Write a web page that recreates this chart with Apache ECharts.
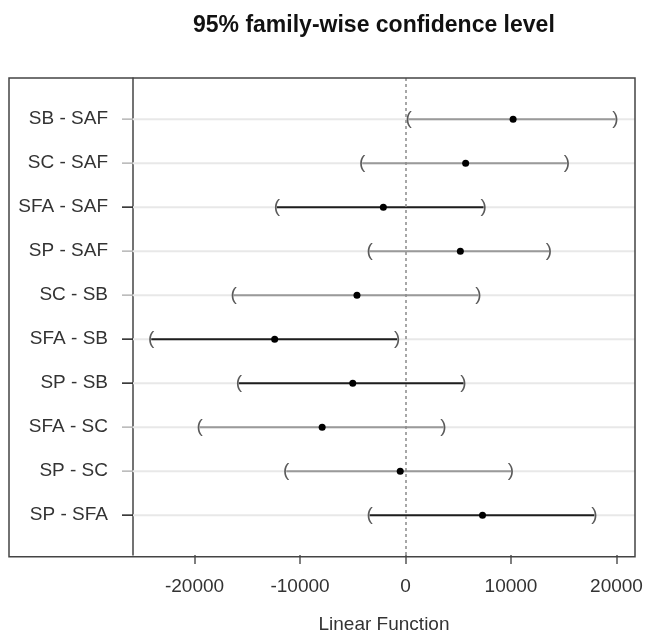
<!DOCTYPE html>
<html>
<head>
<meta charset="utf-8">
<script src="https://cdn.jsdelivr.net/npm/echarts@6/dist/echarts.min.js"></script>
<style>
html,body{margin:0;padding:0;background:#fff;}
#chart{width:646px;height:639px;}
</style>
</head>
<body>
<div id="chart"></div>
<script>
// ---- data ----
const comparisons = ['SB - SAF','SC - SAF','SFA - SAF','SP - SAF','SC - SB','SFA - SB','SP - SB','SFA - SC','SP - SC','SP - SFA'];
const estimates = [10200, 5700, -2100, 5200, -4600, -12400, -5000, -7900, -500, 7300];
const lowers    = [300, -4100, -12200, -3400, -16300, -24100, -15800, -19500, -11300, -3400];
const uppers    = [19900, 15300, 7400, 13600, 6900, -800, 5500, 3600, 10000, 17900];
const xTicks = [-20000, -10000, 0, 10000, 20000];

// ---- styling ----
const FONT = "'Liberation Sans', Arial, sans-serif";
const darkRow = [false,false,true,false,false,true,true,false,false,true];
const rows = comparisons.map((c,i)=>i+1);

const chart = echarts.init(document.getElementById('chart'), null, {renderer:'canvas'});
const data = comparisons.map((c,i)=>[lowers[i], estimates[i], uppers[i], i+1]);

chart.setOption({
  animation:false,
  backgroundColor:'#fff',
  title:{
    text:'95% family-wise confidence level',
    left:188, top:9,
    textStyle:{fontFamily:FONT, fontWeight:'bold', fontSize:23, color:'#111'}
  },
  grid:{left:133, right:11, top:78, bottom:82.3},
  xAxis:{
    type:'value', min:-25830, max:21754,
    name:'Linear Function', nameLocation:'middle', nameGap:60,
    nameTextStyle:{fontFamily:FONT, fontSize:19, color:'#333'},
    axisLine:{show:false, onZero:false},
    axisTick:{show:true, customValues:xTicks, length:9, lineStyle:{color:'#555', width:1.5}},
    axisLabel:{customValues:xTicks, margin:22, fontFamily:FONT, fontSize:19, color:'#333',
      formatter:v=>String(v)},
    splitLine:{show:false}
  },
  yAxis:{
    type:'value', inverse:true, min:0.065, max:10.906,
    axisLine:{show:true, onZero:false, lineStyle:{color:'#444', width:1.5}},
    axisTick:{show:false},
    axisLabel:{customValues:rows, margin:25, fontFamily:FONT, fontSize:19, color:'#333',
      formatter:v=>comparisons[Math.round(v)-1]},
    splitLine:{show:false}
  },
  graphic:[{
    type:'rect', shape:{x:9, y:78, width:626, height:478.7},
    style:{fill:null, stroke:'#444', lineWidth:1.5}, silent:true, z:100
  }],
  series:[{
    type:'custom',
    clip:false,
    data:data,
    renderItem:function(params, api){
      const row = api.value(3);
      const pL = api.coord([api.value(0), row]);
      const pE = api.coord([api.value(1), row]);
      const pU = api.coord([api.value(2), row]);
      const cs = params.coordSys;
      const idx = params.dataIndex;
      const col = darkRow[idx] ? '#1e1e1e' : '#9a9a9a';
      const tickCol = darkRow[idx] ? '#222' : '#b5b5b5';
      return {type:'group', children:[
        {type:'line', shape:{x1:cs.x, y1:pE[1], x2:cs.x+cs.width, y2:pE[1]},
          style:{stroke:'#e8e8e8', lineWidth:2}, z2:0},
        {type:'line', shape:{x1:cs.x-11, y1:pE[1], x2:cs.x, y2:pE[1]},
          style:{stroke:tickCol, lineWidth:1.5}, z2:1},
        {type:'line', shape:{x1:pL[0], y1:pL[1], x2:pU[0], y2:pU[1]},
          style:{stroke:col, lineWidth:2}, z2:5},
        {type:'text', x:pL[0], y:pL[1], style:{text:'(', fontFamily:FONT, fontSize:19,
          fill:'#5a5a5a', align:'center', verticalAlign:'middle'}, z2:6},
        {type:'text', x:pU[0], y:pU[1], style:{text:')', fontFamily:FONT, fontSize:19,
          fill:'#5a5a5a', align:'center', verticalAlign:'middle'}, z2:6},
        {type:'circle', shape:{cx:pE[0], cy:pE[1], r:3.5}, style:{fill:'#000'}, z2:7}
      ]};
    },
    markLine:{
      silent:true, symbol:'none', label:{show:false},
      lineStyle:{type:[3,3], color:'#8a8a8a', width:1.5},
      data:[{xAxis:0}]
    },
    z:2
  }]
});
</script>
</body>
</html>
